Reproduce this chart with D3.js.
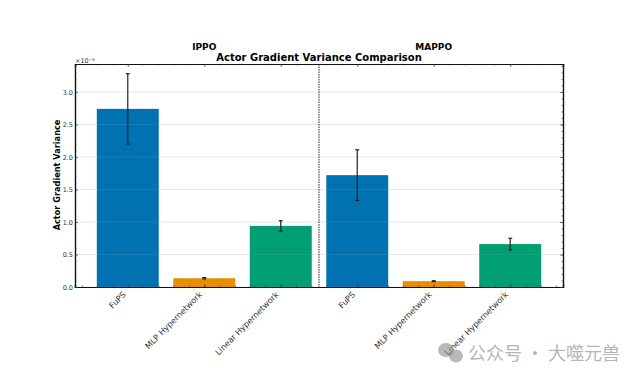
<!doctype html>
<html lang="en">
<head>
<meta charset="utf-8">
<title>Actor Gradient Variance Comparison</title>
<script src="https://cdn.jsdelivr.net/npm/d3@7"></script>
<style>
    body { margin: 0; background: #fff; }
    text { font-family: "DejaVu Sans", sans-serif; }
    .tick text { fill: #333; }
</style>
</head>
<body>
<script>
// values are in units of 1e-6
var labels = ["FuPS", "MLP Hypernetwork", "Linear Hypernetwork", "FuPS", "MLP Hypernetwork", "Linear Hypernetwork"];
var values = [2.74, 0.135, 0.94, 1.72, 0.09, 0.66];
var errors = [0.54, 0.01, 0.08, 0.39, 0.006, 0.09];
var colors = ["#0072b2", "#e69000", "#009e73", "#0072b2", "#e69000", "#009e73"];
var yTicks = [0, 0.5, 1, 1.5, 2, 2.5, 3];
var groups = [{name: "IPPO", pos: 1}, {name: "MAPPO", pos: 4}];

var width = 640, height = 380;
var margin = {top: 64, right: 77, bottom: 93, left: 75};
var w = width - margin.left - margin.right;
var h = height - margin.top - margin.bottom;

var x = d3.scaleLinear().domain([-0.69, 5.69]).range([0, w]);
var y = d3.scaleLinear().domain([0, 3.43]).range([h, 0]);

var svg = d3.select("body").append("svg")
    .attr("width", width)
    .attr("height", height);
var g = svg.append("g")
    .attr("transform", "translate(" + margin.left + "," + margin.top + ")");

// bars
g.selectAll(".bar").data(values).enter().append("rect")
    .attr("x", (d, i) => x(i - 0.405))
    .attr("width", x(0.405) - x(-0.405))
    .attr("y", d => y(d))
    .attr("height", d => h - y(d))
    .attr("fill", (d, i) => colors[i]);

// grid sits over the bars, faintly
g.selectAll(".grid").data(yTicks).enter().append("line")
    .attr("x1", 0).attr("x2", w)
    .attr("y1", d => y(d)).attr("y2", d => y(d))
    .attr("stroke", "#999").attr("stroke-opacity", 0.4).attr("stroke-width", 0.8)
    .attr("stroke-dasharray", "1.5,0.5");

// error bars
var err = g.selectAll(".err").data(values).enter().append("g").attr("stroke", "#222");
err.append("line")
    .attr("x1", (d, i) => x(i)).attr("x2", (d, i) => x(i))
    .attr("y1", (d, i) => y(d - errors[i])).attr("y2", (d, i) => y(d + errors[i]))
    .attr("stroke-width", 1.2);
[-1, 1].forEach(function(sign) {
    err.append("line")
        .attr("x1", (d, i) => x(i) - 2).attr("x2", (d, i) => x(i) + 2)
        .attr("y1", (d, i) => y(d + sign * errors[i])).attr("y2", (d, i) => y(d + sign * errors[i]))
        .attr("stroke-width", 1.2);
});

// divider between the two algorithms
g.append("line")
    .attr("x1", x(2.5)).attr("x2", x(2.5))
    .attr("y1", 0).attr("y2", h)
    .attr("stroke", "#222").attr("stroke-width", 1).attr("stroke-dasharray", "1.5,1");

// axes, ticks point inward on all four sides
var xMinor = d3.range(-3, 29).map(d => d / 5);
var yMinor = d3.range(0, 35).map(d => d / 10);

function tickStyle(sel) {
    sel.select(".domain").attr("stroke", "#111").attr("stroke-width", 1.2);
    sel.selectAll(".tick line").attr("stroke", "#333").attr("stroke-width", 0.6);
}

var xAxis = g.append("g").attr("transform", "translate(0," + h + ")")
    .call(d3.axisBottom(x).tickValues(d3.range(6)).tickSize(-3).tickFormat((d, i) => labels[i]))
    .call(tickStyle);
xAxis.selectAll("text")
    .attr("font-size", 8.2)
    .attr("text-anchor", "end")
    .attr("transform", "translate(-4,6) rotate(-45)")
    .attr("x", 0).attr("y", 0).attr("dy", "0.35em");

g.append("g").attr("transform", "translate(0," + h + ")")
    .call(d3.axisBottom(x).tickValues(xMinor).tickSize(-1.5).tickFormat(""))
    .call(tickStyle);
g.append("g")
    .call(d3.axisTop(x).tickValues(d3.range(6)).tickSize(-3).tickFormat(""))
    .call(tickStyle);
g.append("g")
    .call(d3.axisTop(x).tickValues(xMinor).tickSize(-1.5).tickFormat(""))
    .call(tickStyle);

var yAxis = g.append("g")
    .call(d3.axisLeft(y).tickValues(yTicks).tickSize(-3).tickPadding(2).tickFormat(d3.format(".1f")))
    .call(tickStyle);
yAxis.selectAll("text").attr("font-size", 6.5);
g.append("g")
    .call(d3.axisLeft(y).tickValues(yMinor).tickSize(-1.5).tickFormat(""))
    .call(tickStyle);
g.append("g").attr("transform", "translate(" + w + ",0)")
    .call(d3.axisRight(y).tickValues(yTicks).tickSize(-3).tickFormat(""))
    .call(tickStyle);
g.append("g").attr("transform", "translate(" + w + ",0)")
    .call(d3.axisRight(y).tickValues(yMinor).tickSize(-1.5).tickFormat(""))
    .call(tickStyle);

// titles and labels
g.append("text").attr("x", 0).attr("y", -1)
    .attr("font-size", 6.5).attr("fill", "#333")
    .text("×10⁻⁶");

svg.append("text")
    .attr("x", 319).attr("y", 61)
    .attr("text-anchor", "middle")
    .attr("font-size", 10).attr("font-weight", "bold")
    .text("Actor Gradient Variance Comparison");

g.selectAll(".group").data(groups).enter().append("text")
    .attr("x", d => x(d.pos))
    .attr("y", -14)
    .attr("text-anchor", "middle")
    .attr("font-size", 9).attr("font-weight", "bold")
    .text(d => d.name);

svg.append("text")
    .attr("transform", "translate(60,175) rotate(-90)")
    .attr("text-anchor", "middle")
    .attr("font-size", 8.2).attr("font-weight", "bold")
    .text("Actor Gradient Variance");

// watermark, see-through so the last tick label still shows under it
var mark = svg.append("g").attr("fill", "#8a8a8a").attr("fill-opacity", 0.6);
mark.append("ellipse").attr("cx", 446).attr("cy", 350).attr("rx", 8).attr("ry", 7);
mark.append("ellipse").attr("cx", 456).attr("cy", 356).attr("rx", 7).attr("ry", 6.5);
svg.append("text")
    .attr("x", 468).attr("y", 360)
    .style("font-family", "'Noto Sans CJK SC'")
    .attr("font-size", 18).attr("fill", "#b5b5b5")
    .text("公众号 · 大噬元兽");
</script>
</body>
</html>
